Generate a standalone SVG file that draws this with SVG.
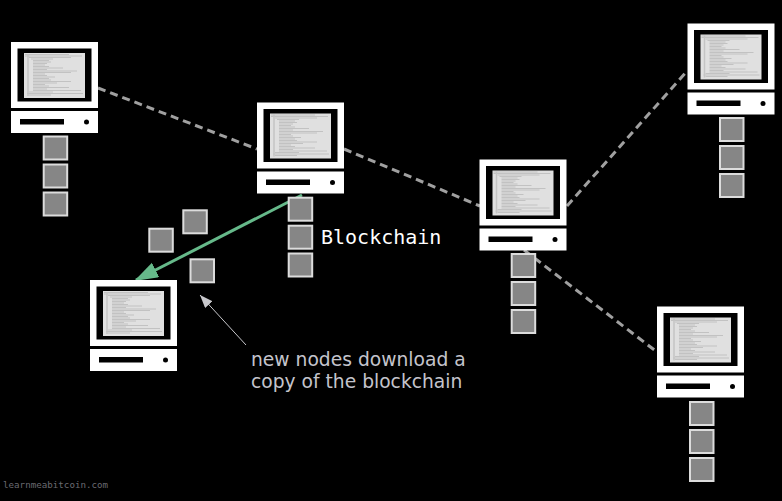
<svg xmlns="http://www.w3.org/2000/svg" xmlns:xlink="http://www.w3.org/1999/xlink" width="782" height="501" viewBox="0 0 782 501">
<style>
.w{fill:#fff}
.k{fill:#000}
.b{fill:#868686;stroke:#dcdcdc;stroke-width:2}
.d{fill:none;stroke:#a0a0a0;stroke-width:3;stroke-dasharray:8 5}
.t{stroke:#a4a4a4;stroke-width:.5;fill:none}
text{font-family:"DejaVu Sans",sans-serif}
.m{font-family:"DejaVu Sans Mono",monospace}
</style>
<defs>
<g id="pc">
<rect class="w" x="0" y="0" width="87" height="66"/>
<rect class="k" x="6.500" y="6.500" width="74" height="53"/>
<rect x="13" y="11" width="61" height="45" fill="#e0e0e0"/>
<path class="t" d="M14 12.500H58M14 14H71M18 15.500H60M20 17H42M22 18.500H38M22 20H40M22 21.500H36M22 23H34M22 24.500H38M22 26H52M22 27.500H36M22 29H66M22 30.500H60M22 32H34M22 33.500H36M22 35H44M22 36.500H38M22 38H40M22 39.500H60M22 41H46M22 42.500H34M22 44H38M22 45.500H58M22 47H36M22 48.500H70M18 50H42M16 51.500H72M18 53H40"/>
<path d="M17 12V54" stroke="#c4c4c4" stroke-width="1.500" fill="none"/>
<rect class="w" x="0" y="69" width="87" height="22"/>
<rect class="k" x="9" y="77" width="44" height="5.500"/>
<circle class="k" cx="75.500" cy="80" r="2.500"/>
</g>
<rect id="bk" class="b" x="0" y="0" width="23.500" height="23"/>
<marker id="ag" markerWidth="24" markerHeight="18" refX="22" refY="8" orient="auto" markerUnits="userSpaceOnUse"><path d="M0 0L24 8L0 16Z" fill="#66b98a"/></marker>
<marker id="ah" markerWidth="14" markerHeight="12" refX="13" refY="5" orient="auto" markerUnits="userSpaceOnUse"><path d="M0 0L13 5L0 10Z" fill="#c8c8cc"/></marker>
</defs>
<rect width="782" height="501" fill="#000"/>
<g id="connectors">
<path class="d" d="M98 88L257 149"/>
<path class="d" d="M344 149L480 206"/>
<path class="d" d="M567 206L688 70"/>
<path class="d" d="M524 250L657 352"/>
<path d="M302 195L136 280" fill="none" stroke="#66b98a" stroke-width="3" marker-end="url(#ag)"/>
<path d="M246 345L200 295" fill="none" stroke="#c8c8cc" stroke-width="1" marker-end="url(#ah)"/>
</g>
<g id="node-1"><use xlink:href="#pc" x="11" y="42"/><use xlink:href="#bk" x="43.700" y="136.500"/><use xlink:href="#bk" x="43.700" y="164.500"/><use xlink:href="#bk" x="43.700" y="192.500"/></g>
<g id="node-2"><use xlink:href="#pc" x="257" y="102.500"/><use xlink:href="#bk" x="288.700" y="197.700"/><use xlink:href="#bk" x="288.700" y="225.700"/><use xlink:href="#bk" x="288.700" y="253.500"/></g>
<g id="node-3"><use xlink:href="#pc" x="479.500" y="159.500"/><use xlink:href="#bk" x="511.700" y="254"/><use xlink:href="#bk" x="511.700" y="282"/><use xlink:href="#bk" x="511.700" y="310"/></g>
<g id="node-4"><use xlink:href="#pc" x="687.500" y="23.500"/><use xlink:href="#bk" x="720" y="118"/><use xlink:href="#bk" x="720" y="146"/><use xlink:href="#bk" x="720" y="174"/></g>
<g id="node-5"><use xlink:href="#pc" x="657" y="306.500"/><use xlink:href="#bk" x="690" y="402"/><use xlink:href="#bk" x="690" y="430"/><use xlink:href="#bk" x="690" y="458"/></g>
<g id="node-new"><use xlink:href="#pc" x="90" y="280"/></g>
<g id="moving-blocks"><use xlink:href="#bk" x="149.300" y="228.700"/><use xlink:href="#bk" x="183.300" y="210.300"/><use xlink:href="#bk" x="190.500" y="259.300"/></g>
<text id="label-blockchain" class="m" x="321" y="244" font-size="20" fill="#fff">Blockchain</text>
<g id="label-note" font-size="18.700" fill="#c4c4cc"><text x="251" y="366">new nodes download a</text><text x="251" y="388">copy of the blockchain</text></g>
<text id="credit" class="m" x="3" y="488" font-size="9.200" fill="#6a6a70">learnmeabitcoin.com</text>
</svg>
